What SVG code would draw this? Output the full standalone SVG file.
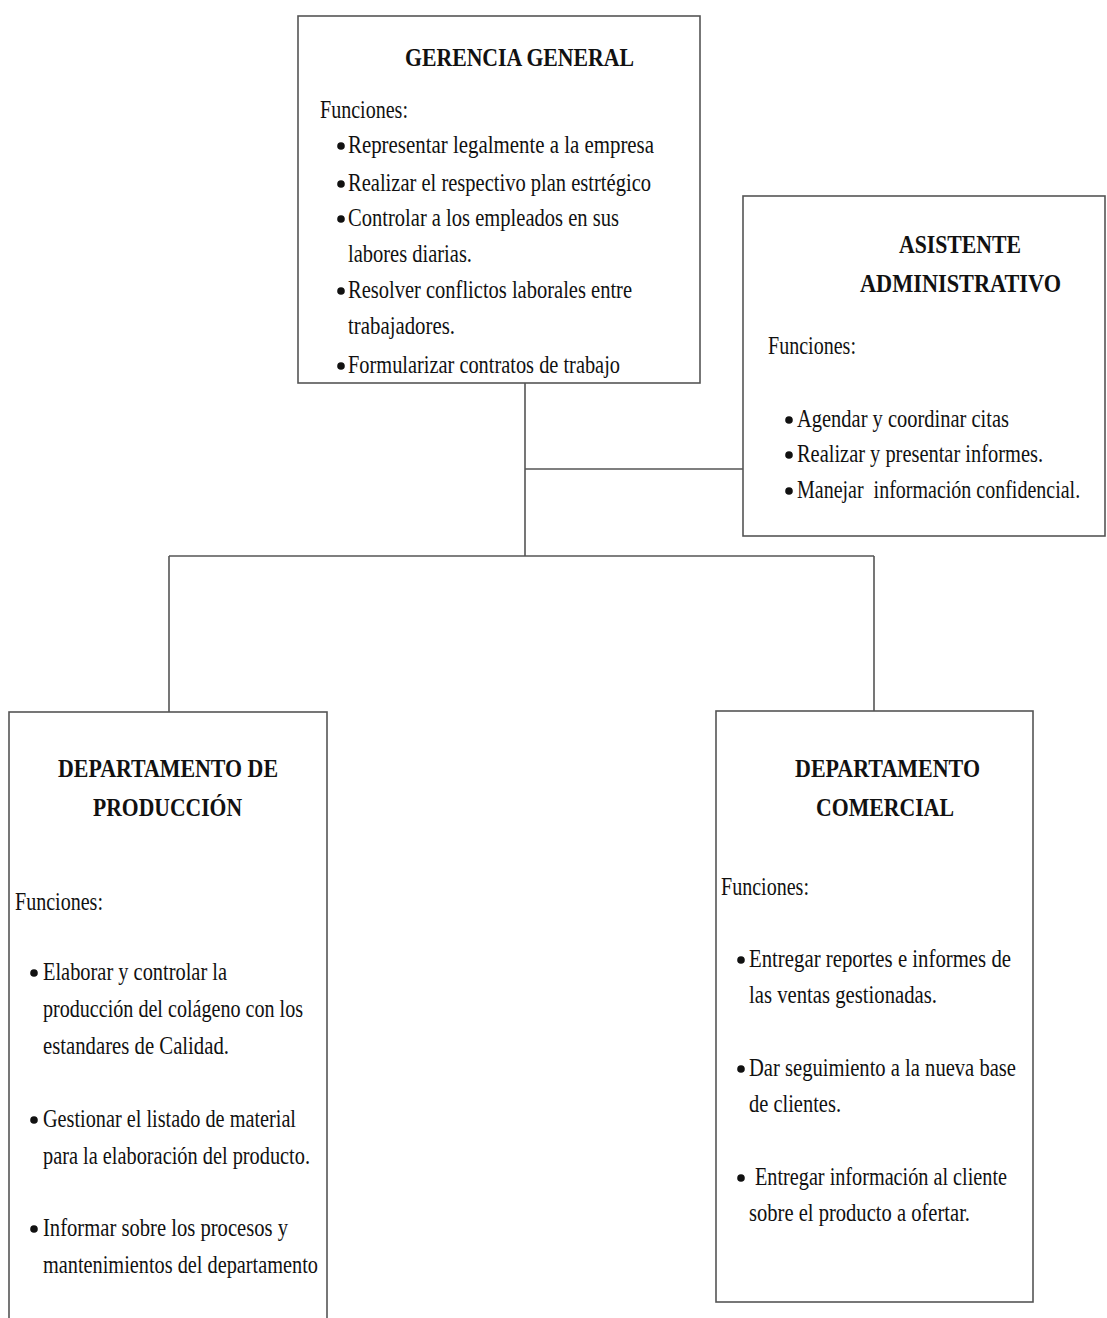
<svg xmlns="http://www.w3.org/2000/svg" width="1107" height="1318" viewBox="0 0 1107 1318">
<style>
.box{fill:#fff;stroke:#555;stroke-width:1.6}
.c{stroke:#555;stroke-width:1.6;fill:none}
text{font-family:"Liberation Serif","Times New Roman",serif;fill:#111}
.t{font-size:25px;font-weight:bold}
.b{font-size:25px}
.d{fill:#111}
</style>
<rect width="1107" height="1318" fill="#fff"/>
<g id="connectors">
<path class="c" d="M525 383V556M525 469H743M169 556H874M169 556V712M874 556V711"/>
</g>
<g id="gerencia">
<rect class="box" x="298" y="16" width="402" height="367"/>
<text class="t" x="405" y="66" textLength="229" lengthAdjust="spacingAndGlyphs">GERENCIA GENERAL</text>
<text class="b" x="320" y="118" textLength="88" lengthAdjust="spacingAndGlyphs">Funciones:</text>
<circle class="d" cx="341" cy="146" r="3.8"/>
<text class="b" x="348" y="153" textLength="306" lengthAdjust="spacingAndGlyphs">Representar legalmente a la empresa</text>
<circle class="d" cx="341" cy="184" r="3.8"/>
<text class="b" x="348" y="191" textLength="303" lengthAdjust="spacingAndGlyphs">Realizar el respectivo plan estrtégico</text>
<circle class="d" cx="341" cy="219" r="3.8"/>
<text class="b" x="348" y="226" textLength="271" lengthAdjust="spacingAndGlyphs">Controlar a los empleados en sus</text>
<text class="b" x="348" y="262" textLength="124" lengthAdjust="spacingAndGlyphs">labores diarias.</text>
<circle class="d" cx="341" cy="291" r="3.8"/>
<text class="b" x="348" y="298" textLength="284" lengthAdjust="spacingAndGlyphs">Resolver conflictos laborales entre</text>
<text class="b" x="348" y="334" textLength="107" lengthAdjust="spacingAndGlyphs">trabajadores.</text>
<circle class="d" cx="341" cy="366" r="3.8"/>
<text class="b" x="348" y="373" textLength="272" lengthAdjust="spacingAndGlyphs">Formularizar contratos de trabajo</text>
</g>
<g id="asistente">
<rect class="box" x="743" y="196" width="362" height="340"/>
<text class="t" x="899" y="253" textLength="122" lengthAdjust="spacingAndGlyphs">ASISTENTE</text>
<text class="t" x="860" y="292" textLength="201" lengthAdjust="spacingAndGlyphs">ADMINISTRATIVO</text>
<text class="b" x="768" y="354" textLength="88" lengthAdjust="spacingAndGlyphs">Funciones:</text>
<circle class="d" cx="789" cy="420" r="3.8"/>
<text class="b" x="797" y="427" textLength="212" lengthAdjust="spacingAndGlyphs">Agendar y coordinar citas</text>
<circle class="d" cx="789" cy="455" r="3.8"/>
<text class="b" x="797" y="462" textLength="246" lengthAdjust="spacingAndGlyphs">Realizar y presentar informes.</text>
<circle class="d" cx="789" cy="491" r="3.8"/>
<text class="b" transform="translate(797 498) scale(0.78 1)" x="0" y="0" textLength="363" lengthAdjust="spacingAndGlyphs" xml:space="preserve">Manejar  información confidencial.</text>
</g>
<g id="produccion">
<rect class="box" x="9" y="712" width="318" height="612"/>
<text class="t" x="58" y="777" textLength="220" lengthAdjust="spacingAndGlyphs">DEPARTAMENTO DE</text>
<text class="t" x="93" y="816" textLength="149" lengthAdjust="spacingAndGlyphs">PRODUCCIÓN</text>
<text class="b" x="15" y="910" textLength="88" lengthAdjust="spacingAndGlyphs">Funciones:</text>
<circle class="d" cx="34" cy="973" r="3.8"/>
<text class="b" x="43" y="980" textLength="184" lengthAdjust="spacingAndGlyphs">Elaborar y controlar la</text>
<text class="b" x="43" y="1017" textLength="260" lengthAdjust="spacingAndGlyphs">producción del colágeno con los</text>
<text class="b" x="43" y="1054" textLength="186" lengthAdjust="spacingAndGlyphs">estandares de Calidad.</text>
<circle class="d" cx="34" cy="1120" r="3.8"/>
<text class="b" x="43" y="1127" textLength="253" lengthAdjust="spacingAndGlyphs">Gestionar el listado de material</text>
<text class="b" x="43" y="1164" textLength="267" lengthAdjust="spacingAndGlyphs">para la elaboración del producto.</text>
<circle class="d" cx="34" cy="1229" r="3.8"/>
<text class="b" x="43" y="1236" textLength="245" lengthAdjust="spacingAndGlyphs">Informar sobre los procesos y</text>
<text class="b" x="43" y="1273" textLength="275" lengthAdjust="spacingAndGlyphs">mantenimientos del departamento</text>
</g>
<g id="comercial">
<rect class="box" x="716" y="711" width="317" height="591"/>
<text class="t" x="795" y="777" textLength="185" lengthAdjust="spacingAndGlyphs">DEPARTAMENTO</text>
<text class="t" x="816" y="816" textLength="138" lengthAdjust="spacingAndGlyphs">COMERCIAL</text>
<text class="b" x="721" y="895" textLength="88" lengthAdjust="spacingAndGlyphs">Funciones:</text>
<circle class="d" cx="741" cy="960" r="3.8"/>
<text class="b" x="749" y="967" textLength="262" lengthAdjust="spacingAndGlyphs">Entregar reportes e informes de</text>
<text class="b" x="749" y="1003" textLength="188" lengthAdjust="spacingAndGlyphs">las ventas gestionadas.</text>
<circle class="d" cx="741" cy="1069" r="3.8"/>
<text class="b" x="749" y="1076" textLength="267" lengthAdjust="spacingAndGlyphs">Dar seguimiento a la nueva base</text>
<text class="b" x="749" y="1112" textLength="92" lengthAdjust="spacingAndGlyphs">de clientes.</text>
<circle class="d" cx="741" cy="1178" r="3.8"/>
<text class="b" x="755" y="1185" textLength="252" lengthAdjust="spacingAndGlyphs">Entregar información al cliente</text>
<text class="b" x="749" y="1221" textLength="221" lengthAdjust="spacingAndGlyphs">sobre el producto a ofertar.</text>
</g>
</svg>
